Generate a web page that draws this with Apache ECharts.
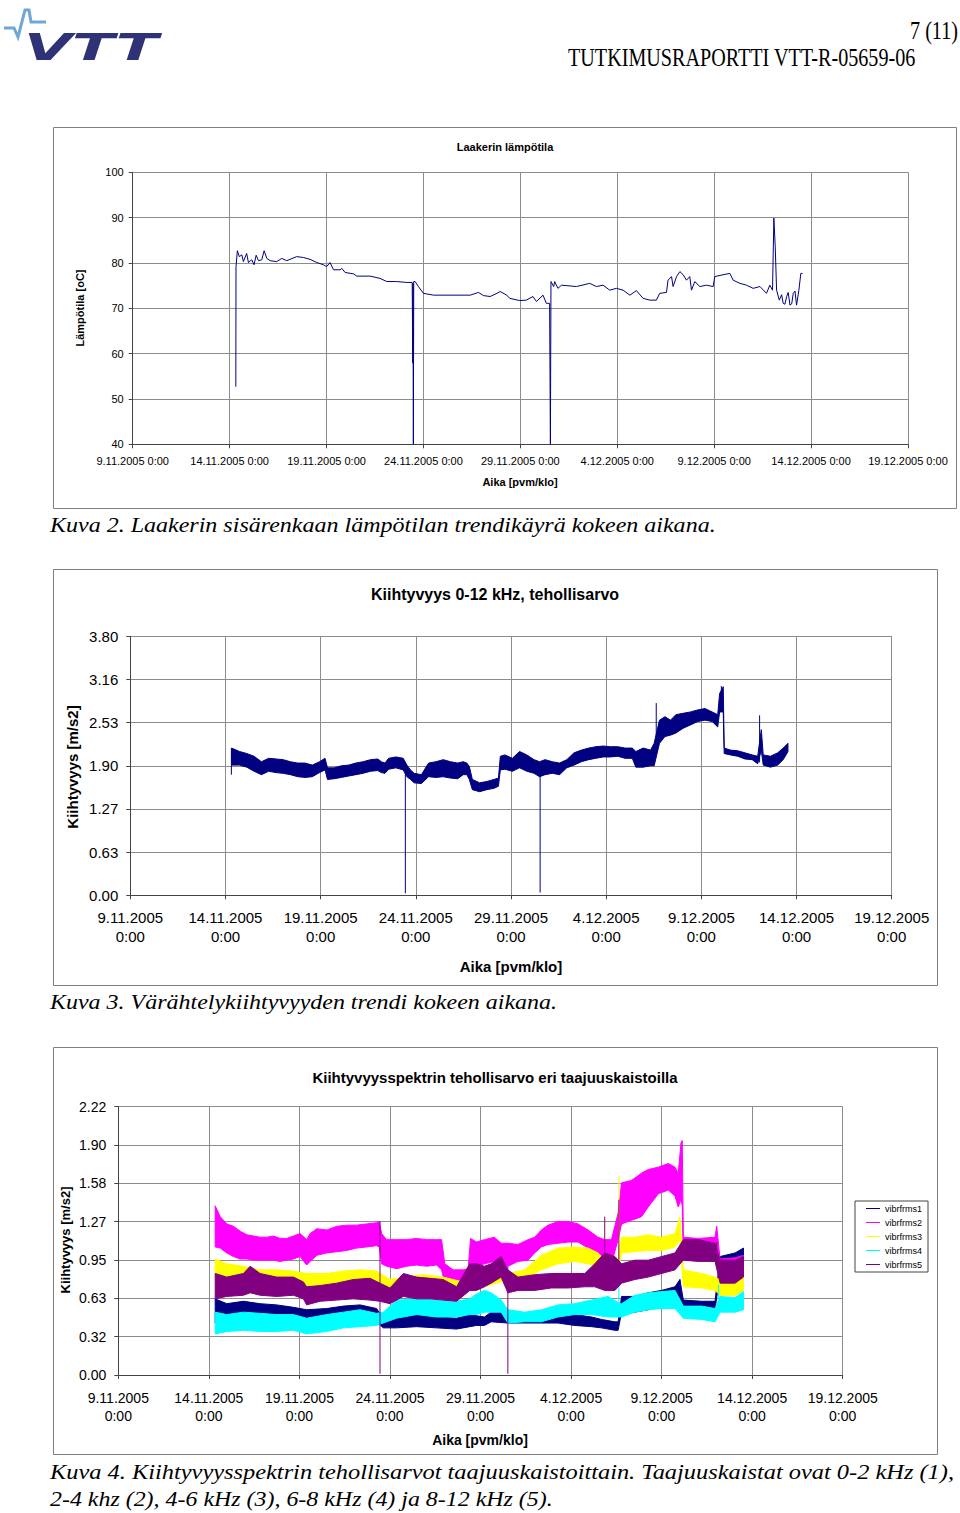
<!DOCTYPE html>
<html><head><meta charset="utf-8">
<script src="https://cdn.jsdelivr.net/npm/echarts@6.0.0/dist/echarts.min.js"></script>
<style>html,body{margin:0;padding:0;background:#fff}#c{width:960px;height:1513px}</style>
</head><body><div id="c"></div>
<script>
// ---------- tick labels ----------
const xDates = ['9.11.2005','14.11.2005','19.11.2005','24.11.2005','29.11.2005','4.12.2005','9.12.2005','14.12.2005','19.12.2005'];
const xTime = '0:00';
const y1Labels = ['40','50','60','70','80','90','100'];
const y2Labels = ['0.00','0.63','1.27','1.90','2.53','3.16','3.80'];
const y3Labels = ['0.00','0.32','0.63','0.95','1.27','1.58','1.90','2.22'];
const seriesNames = ['vibrfrms1','vibrfrms2','vibrfrms3','vibrfrms4','vibrfrms5'];

// ---------- chart 1: bearing temperature (days since 9.11.2005 0:00, degC) ----------
const c1Day = [5.32,5.33,5.40,5.50,5.63,5.71,5.88,5.97,6.14,6.26,6.37,6.49,6.66,6.78,6.92,7.09,7.43,7.69,7.95,8.46,8.81,9.15,9.50,9.84,10.01,10.18,10.36,10.70,10.79,10.96,11.39,11.56,12.25,12.76,13.11,13.62,14.14,14.42,14.45,14.46,14.48,14.50,14.57,14.74,15.00,15.52,16.38,17.41,17.84,18.10,18.44,18.79,18.96,19.30,19.45,19.97,20.31,20.65,20.83,21.17,21.34,21.51,21.55,21.58,21.72,21.77,21.94,22.12,22.89,23.58,23.92,24.27,24.61,24.96,25.30,25.65,25.99,26.33,26.68,27.02,27.19,27.54,27.62,27.80,27.88,28.06,28.23,28.40,28.57,28.74,28.83,29.00,29.26,29.60,29.95,30.03,30.46,30.81,30.98,31.33,31.67,32.01,32.36,32.70,32.87,33.01,33.08,33.15,33.22,33.36,33.48,33.56,33.65,33.74,33.82,33.91,34.00,34.08,34.17,34.25,34.37,34.47,34.56];
const c1Temp = [52.7,79.2,82.7,81.4,81.8,80.3,82.1,80.1,80.7,79.6,81.7,80.5,80.7,82.7,81.0,80.5,80.3,81.0,80.5,81.4,81.2,80.8,80.1,79.6,79.2,80.1,78.5,78.5,78.8,77.9,77.6,77.1,77.1,76.6,75.9,75.9,75.7,75.7,57.9,75.5,40.0,75.9,75.9,74.8,73.3,72.9,72.9,72.9,73.5,72.8,72.6,73.3,73.7,72.9,72.2,71.7,71.8,72.6,71.5,72.9,71.1,71.1,40.0,75.9,74.8,75.9,74.4,75.1,74.8,75.5,74.8,75.1,74.0,74.4,74.0,72.9,73.9,72.2,71.8,71.8,73.3,73.5,76.2,77.0,74.8,77.0,78.1,77.4,76.2,77.0,74.0,75.9,74.8,75.1,74.8,77.0,77.4,77.7,76.2,75.5,75.1,74.4,74.8,73.3,75.1,74.0,89.9,83.6,74.0,71.8,73.0,71.1,70.9,72.6,73.5,70.7,71.0,73.3,73.8,70.7,74.0,77.7,77.7];

// ---------- chart 2: acceleration 0-12 kHz, rms band [day, low, high] ----------
const c2Band = [[5.32,1.91,2.16],[5.74,1.91,2.11],[6.12,1.88,2.08],[6.50,1.82,2.04],[6.89,1.77,1.96],[7.27,1.82,2.01],[7.65,1.80,2.00],[8.03,1.79,1.99],[8.41,1.77,1.96],[8.80,1.74,1.94],[9.18,1.73,1.94],[9.56,1.74,1.91],[9.94,1.80,1.96],[10.23,1.84,2.01],[10.36,1.70,1.87],[10.71,1.71,1.87],[11.09,1.73,1.90],[11.47,1.75,1.91],[11.85,1.77,1.94],[12.23,1.79,1.96],[12.62,1.82,1.99],[13.00,1.83,2.00],[13.19,1.80,1.96],[13.38,1.79,1.94],[13.57,1.85,2.01],[13.95,1.87,2.03],[14.34,1.84,2.01],[14.53,1.74,1.91],[14.72,1.70,1.84],[14.91,1.65,1.79],[15.29,1.64,1.77],[15.67,1.74,1.94],[16.06,1.73,1.96],[16.44,1.74,1.99],[16.82,1.72,1.96],[17.20,1.71,1.94],[17.49,1.77,1.96],[17.68,1.77,1.94],[17.81,1.70,1.89],[17.97,1.55,1.70],[18.35,1.52,1.65],[18.73,1.55,1.67],[19.11,1.57,1.70],[19.34,1.60,1.72],[19.44,1.84,2.04],[19.68,1.85,2.06],[20.07,1.82,2.01],[20.45,1.87,2.11],[20.83,1.82,2.06],[21.21,1.79,1.99],[21.50,1.74,1.96],[21.79,1.77,1.99],[22.17,1.79,1.96],[22.55,1.77,1.94],[22.93,1.87,1.99],[23.31,1.91,2.09],[23.70,1.96,2.13],[24.08,1.99,2.16],[24.46,2.01,2.18],[24.84,2.03,2.19],[25.22,2.03,2.18],[25.61,2.04,2.18],[25.99,2.01,2.16],[26.37,2.01,2.16],[26.56,1.88,2.11],[26.94,1.88,2.16],[27.33,1.90,2.13],[27.52,1.90,2.23],[27.80,2.23,2.57],[28.09,2.33,2.62],[28.38,2.35,2.57],[28.66,2.38,2.65],[29.04,2.45,2.67],[29.43,2.50,2.69],[29.81,2.55,2.72],[30.19,2.57,2.74],[30.57,2.55,2.69],[30.86,2.47,2.65],[30.96,2.69,2.96],[31.15,2.69,3.06],[31.20,2.08,2.16],[31.53,2.06,2.13],[31.91,2.04,2.12],[32.29,2.00,2.09],[32.67,1.99,2.06],[32.96,1.93,2.04],[33.15,2.13,2.43],[33.25,1.91,2.06],[33.63,1.88,2.04],[34.01,1.91,2.09],[34.30,1.99,2.16],[34.55,2.11,2.23]];
const c2Spikes = [[5.31,1.77,2.16],[14.45,0.03,1.90],[21.53,0.04,1.80],[27.63,2.20,2.82],[31.05,2.70,3.07],[33.06,1.95,2.64]];

// ---------- chart 3: band rms values [day, low, high] ----------
const s1Band = [[5.35,0.43,0.63],[5.99,0.44,0.59],[6.91,0.45,0.61],[7.83,0.44,0.59],[8.75,0.45,0.58],[9.67,0.44,0.56],[10.40,0.43,0.54],[11.51,0.44,0.55],[12.43,0.45,0.57],[13.35,0.47,0.58],[14.26,0.44,0.55],[14.63,0.39,0.47],[15.37,0.39,0.48],[16.47,0.40,0.50],[17.57,0.39,0.48],[18.68,0.38,0.47],[19.41,0.40,0.50],[19.78,0.41,0.49],[20.22,0.41,0.48],[20.59,0.44,0.52],[21.51,0.43,0.52],[22.44,0.43,0.51],[23.36,0.43,0.50],[24.28,0.43,0.50],[25.20,0.41,0.50],[26.13,0.40,0.48],[26.68,0.39,0.46],[27.42,0.37,0.44],[27.60,0.37,0.44],[27.79,0.52,0.65],[28.52,0.52,0.65],[29.26,0.54,0.68],[30.00,0.57,0.70],[30.74,0.59,0.73],[31.01,0.65,0.79],[31.20,0.54,0.62],[32.21,0.54,0.61],[32.95,0.54,0.61],[33.23,0.84,0.98],[34.06,0.87,1.01],[34.52,0.88,1.05]];
const s2Band = [[5.35,1.06,1.40],[5.63,1.05,1.31],[5.99,1.01,1.25],[6.36,0.98,1.23],[6.73,0.96,1.19],[7.10,0.96,1.16],[7.46,0.95,1.15],[7.83,0.95,1.14],[8.20,0.95,1.14],[8.57,0.95,1.15],[8.93,0.94,1.13],[9.30,0.95,1.13],[9.67,0.96,1.15],[10.04,0.98,1.17],[10.40,0.91,1.12],[10.59,0.94,1.17],[10.96,0.99,1.21],[11.51,1.01,1.20],[12.06,1.02,1.23],[12.61,1.03,1.24],[13.16,1.05,1.24],[13.71,1.06,1.25],[14.26,1.07,1.26],[14.41,1.06,1.27],[14.54,0.92,1.17],[14.82,0.90,1.12],[15.37,0.88,1.12],[15.92,0.90,1.12],[16.47,0.91,1.13],[17.02,0.90,1.12],[17.57,0.91,1.12],[17.85,0.87,1.12],[18.03,0.76,0.92],[18.49,0.73,0.87],[19.04,0.74,0.87],[19.32,0.76,0.88],[19.45,0.92,1.13],[19.78,0.90,1.10],[20.22,0.92,1.12],[20.77,0.94,1.14],[21.14,0.92,1.09],[21.51,0.90,1.09],[22.07,0.94,1.08],[22.62,0.95,1.12],[22.99,1.01,1.14],[23.36,1.06,1.20],[23.73,1.08,1.24],[24.28,1.09,1.27],[24.83,1.10,1.27],[25.39,1.10,1.25],[25.94,1.05,1.20],[26.49,1.01,1.14],[26.86,0.97,1.12],[27.23,0.92,1.12],[27.60,1.12,1.34],[27.79,1.25,1.59],[28.34,1.28,1.61],[28.89,1.31,1.67],[29.26,1.39,1.70],[29.82,1.50,1.72],[30.37,1.53,1.75],[30.74,1.48,1.72],[30.92,1.39,1.67],[31.07,1.45,1.92],[31.14,1.40,1.94],[31.20,0.95,1.14],[32.03,0.96,1.13],[32.95,0.95,1.14],[33.04,0.95,1.23],[33.23,0.79,0.96],[34.06,0.80,0.97],[34.52,0.82,0.99]];
const s3Band = [[5.35,0.77,0.96],[5.99,0.80,0.92],[6.91,0.79,0.90],[7.83,0.77,0.87],[8.75,0.76,0.87],[9.67,0.74,0.86],[10.40,0.73,0.84],[11.51,0.73,0.84],[12.43,0.74,0.86],[13.35,0.76,0.87],[14.26,0.74,0.86],[15.00,0.68,0.79],[15.74,0.69,0.81],[16.84,0.70,0.83],[17.94,0.70,0.81],[19.04,0.69,0.77],[19.78,0.73,0.87],[20.22,0.73,0.81],[21.51,0.79,0.84],[22.44,0.80,0.87],[23.36,0.87,0.99],[24.28,0.92,1.05],[25.20,0.94,1.06],[25.94,0.92,1.05],[26.49,0.90,1.01],[27.05,0.84,0.92],[27.60,0.85,0.95],[27.79,1.01,1.14],[28.52,1.02,1.14],[29.26,1.03,1.16],[30.00,1.03,1.14],[30.74,1.06,1.17],[31.01,1.12,1.31],[31.20,0.73,0.87],[32.21,0.72,0.84],[32.95,0.70,0.81],[33.23,0.66,0.79],[34.06,0.66,0.76],[34.52,0.70,0.87]];
const s4Band = [[5.35,0.34,0.52],[5.99,0.36,0.50],[6.91,0.37,0.52],[7.83,0.36,0.51],[8.75,0.36,0.50],[9.67,0.37,0.50],[10.40,0.34,0.47],[11.51,0.36,0.50],[12.43,0.39,0.52],[13.35,0.40,0.54],[14.26,0.41,0.51],[14.63,0.43,0.52],[15.37,0.47,0.62],[16.47,0.50,0.63],[17.57,0.48,0.62],[18.68,0.48,0.61],[19.41,0.50,0.63],[19.78,0.50,0.67],[20.22,0.52,0.70],[20.59,0.52,0.68],[21.14,0.52,0.62],[21.51,0.43,0.54],[22.44,0.44,0.52],[23.36,0.44,0.54],[24.28,0.48,0.58],[25.20,0.50,0.59],[26.13,0.50,0.62],[27.05,0.48,0.65],[27.60,0.48,0.60],[27.79,0.48,0.59],[28.52,0.52,0.66],[29.26,0.54,0.68],[30.00,0.55,0.69],[30.74,0.55,0.70],[31.20,0.47,0.57],[32.21,0.46,0.57],[32.95,0.44,0.55],[33.23,0.52,0.65],[34.06,0.52,0.64],[34.52,0.54,0.69]];
const s5Band = [[5.35,0.63,0.84],[5.99,0.65,0.81],[6.91,0.66,0.84],[7.28,0.68,0.90],[7.83,0.66,0.84],[8.75,0.65,0.81],[9.67,0.66,0.81],[10.22,0.63,0.77],[10.40,0.58,0.73],[11.14,0.61,0.74],[12.06,0.62,0.76],[12.98,0.63,0.79],[13.90,0.62,0.80],[14.45,0.61,0.76],[15.00,0.59,0.72],[15.74,0.65,0.84],[16.47,0.63,0.81],[17.21,0.63,0.80],[17.94,0.62,0.79],[18.68,0.61,0.73],[19.41,0.70,0.92],[19.78,0.70,0.92],[20.22,0.73,0.90],[20.59,0.76,0.92],[21.14,0.81,0.98],[21.51,0.68,0.87],[22.07,0.70,0.81],[22.99,0.70,0.83],[23.91,0.72,0.84],[24.83,0.72,0.84],[25.76,0.73,0.84],[26.31,0.73,0.92],[26.86,0.70,1.01],[27.42,0.70,0.98],[27.79,0.76,0.92],[28.52,0.79,0.95],[29.26,0.81,0.95],[30.00,0.84,0.98],[30.74,0.87,1.01],[31.20,0.95,1.12],[32.03,0.94,1.12],[32.95,0.94,1.09],[33.23,0.76,0.95],[34.06,0.76,0.95],[34.52,0.81,0.98]];
const s1Spikes = [[31.01,0.60,0.79]];
const s2Spikes = [[33.04,0.95,1.23]];
const s3Spikes = [[27.64,0.95,1.65]];
const s4Spikes = [[27.64,0.55,0.75],[33.14,0.50,0.75]];
const s5Spikes = [[14.45,0.01,1.27],[21.51,0.01,0.90],[26.86,0.85,1.31],[27.64,0.85,1.45],[33.04,0.90,1.10]];

// ---------- rendering ----------
const SANS = '"Liberation Sans", Arial, sans-serif';
const SERIF = '"Liberation Serif", "Times New Roman", serif';
const NAVY = '#000080';
const colors = ['#000080','#ff00ff','#ffff00','#00ffff','#800080'];
const y2Step = 3.8 / 6, y3Step = 2.22 / 7;

const mctx = document.createElement('canvas').getContext('2d');
function fitX(text, font, w) { mctx.font = font; return w / mctx.measureText(text).width; }
function txt(text, x, y, o) {
  const font = (o.style || 'normal') + ' ' + (o.weight || 'normal') + ' ' + o.size + 'px ' + (o.family || SANS);
  const el = { type: 'text', x: x, y: y, rotation: o.rot || 0, silent: true, z: 10,
    style: { text: text, font: font, fill: o.color || '#000', align: o.align || 'left', textAlign: o.align || 'left', verticalAlign: 'middle', textVerticalAlign: 'middle' } };
  if (o.width) el.scaleX = fitX(text, font, o.width);
  return el;
}
function box(x1, y1, x2, y2) {
  return { type: 'rect', shape: { x: x1 + 0.5, y: y1 + 0.5, width: x2 - x1, height: y2 - y1 }, silent: true, z: 0,
    style: { fill: 'none', stroke: '#7f7f7f', lineWidth: 1 } };
}

const gridStyle = { lineStyle: { color: '#8c8c8c', width: 1 } };
const axisLineStyle = { show: true, lineStyle: { color: '#444', width: 1 } };
function xAxisCfg(k, size, twoLine, margin) {
  return { type: 'value', gridIndex: k, min: 0, max: 40, interval: 5,
    axisLine: axisLineStyle, axisTick: { show: true, inside: false, length: 4, lineStyle: { color: '#444' } },
    splitLine: Object.assign({ show: true }, gridStyle),
    axisLabel: { show: true, margin: margin, fontFamily: SANS, fontSize: size, color: '#000', lineHeight: twoLine ? size + 4 : size + 2,
      showMinLabel: true, showMaxLabel: true, hideOverlap: false,
      formatter: v => { const d = xDates[Math.round(v / 5)]; return twoLine ? d + '\n' + xTime : d + ' ' + xTime; } } };
}
function yAxisCfg(k, min, max, step, labels, size, margin) {
  return { type: 'value', gridIndex: k, min: min, max: max, interval: step,
    axisLine: axisLineStyle, axisTick: { show: true, inside: false, length: 4, lineStyle: { color: '#444' } },
    splitLine: Object.assign({ show: true }, gridStyle),
    axisLabel: { show: true, margin: margin, fontFamily: SANS, fontSize: size, color: '#000', showMinLabel: true, showMaxLabel: true,
      formatter: v => labels[Math.round((v - min) / step)] } };
}
function band(name, color, rows, k) {
  return { type: 'custom', name: name, xAxisIndex: k, yAxisIndex: k, itemStyle: { color: color }, data: rows,
    encode: { x: 0, y: [1, 2] }, silent: true,
    renderItem: function (params, api) {
      if (params.dataIndex !== 0) return null;
      const up = rows.map(r => api.coord([r[0], r[2]]));
      const dn = rows.slice().reverse().map(r => api.coord([r[0], r[1]]));
      return { type: 'polygon', shape: { points: up.concat(dn) }, style: { fill: color, stroke: color, lineWidth: 1 } };
    } };
}
function spikes(name, color, rows, k) {
  return { type: 'custom', name: name, xAxisIndex: k, yAxisIndex: k, itemStyle: { color: color }, data: rows,
    encode: { x: 0, y: [1, 2] }, silent: true,
    renderItem: function (params, api) {
      const r = rows[params.dataIndex];
      const a = api.coord([r[0], r[1]]), b = api.coord([r[0], r[2]]);
      return { type: 'line', shape: { x1: a[0], y1: a[1], x2: b[0], y2: b[1] }, style: { stroke: color, lineWidth: 1 } };
    } };
}

const c1Data = c1Day.map((d, i) => [d, c1Temp[i]]);
const bands3 = [s1Band, s2Band, s3Band, s4Band, s5Band];
const spikes3 = [s1Spikes, s2Spikes, s3Spikes, s4Spikes, s5Spikes];

const series = [
  { type: 'line', name: 'Lämpötila', xAxisIndex: 0, yAxisIndex: 0, data: c1Data, showSymbol: false, symbol: 'none',
    lineStyle: { color: NAVY, width: 1 }, itemStyle: { color: NAVY }, silent: true, animation: false },
  band('Kiihtyvyys', NAVY, c2Band, 1),
  spikes('Kiihtyvyys', NAVY, c2Spikes, 1)
];
seriesNames.forEach((n, i) => { series.push(band(n, colors[i], bands3[i], 2)); series.push(spikes(n, colors[i], spikes3[i], 2)); });

const graphics = [
  // VTT logo
  { type: 'polyline', silent: true, shape: { points: [[4, 28], [14, 28], [18, 37], [25, 10], [29, 10], [31, 22], [46, 22]] },
    style: { stroke: '#6fa8d6', lineWidth: 3, fill: 'none', lineJoin: 'miter' } },
  Object.assign(txt('VTT', 24, 47, { size: 38, weight: 'bold', style: 'italic', family: '"DejaVu Sans", sans-serif', color: '#2f3277', width: 134 })),
  txt('7 (11)', 958, 30, { size: 26, family: SERIF, align: 'right', width: 48 }),
  txt('TUTKIMUSRAPORTTI VTT-R-05659-06', 568, 57, { size: 26, family: SERIF, width: 348 }),
  // chart boxes
  box(53, 127, 956, 508), box(53, 569, 937, 985), box(53, 1047, 937, 1454),
  // chart 1 texts
  txt('Laakerin lämpötila', 505, 147, { size: 11, weight: 'bold', align: 'center' }),
  txt('Lämpötila [oC]', 80, 308, { size: 11, weight: 'bold', align: 'center', rot: Math.PI / 2 }),
  txt('Aika [pvm/klo]', 520, 482, { size: 11, weight: 'bold', align: 'center' }),
  // chart 2 texts
  txt('Kiihtyvyys 0-12 kHz, tehollisarvo', 495, 594, { size: 16, weight: 'bold', align: 'center' }),
  txt('Kiihtyvyys [m/s2]', 72, 767, { size: 15, weight: 'bold', align: 'center', rot: Math.PI / 2 }),
  txt('Aika [pvm/klo]', 511, 966, { size: 15, weight: 'bold', align: 'center' }),
  // chart 3 texts
  txt('Kiihtyvyysspektrin tehollisarvo eri taajuuskaistoilla', 495, 1077, { size: 15, weight: 'bold', align: 'center' }),
  txt('Kiihtyvyys [m/s2]', 65, 1240, { size: 13, weight: 'bold', align: 'center', rot: Math.PI / 2 }),
  txt('Aika [pvm/klo]', 480, 1440, { size: 14, weight: 'bold', align: 'center' }),
  // captions
  txt('Kuva 2. Laakerin sisärenkaan lämpötilan trendikäyrä kokeen aikana.', 50, 525, { size: 21, style: 'italic', family: SERIF, width: 666 }),
  txt('Kuva 3. Värähtelykiihtyvyyden trendi kokeen aikana.', 50, 1002, { size: 21, style: 'italic', family: SERIF, width: 507 }),
  txt('Kuva 4. Kiihtyvyysspektrin tehollisarvot taajuuskaistoittain. Taajuuskaistat ovat 0-2 kHz (1),', 50, 1472, { size: 21, style: 'italic', family: SERIF, width: 905 }),
  txt('2-4 khz (2), 4-6 kHz (3), 6-8 kHz (4) ja 8-12 kHz (5).', 50, 1499, { size: 21, style: 'italic', family: SERIF, width: 503 })
];

const chart = echarts.init(document.getElementById('c'), null, { renderer: 'svg', width: 960, height: 1513 });
chart.setOption({
  backgroundColor: '#fff',
  animation: false,
  grid: [
    { left: 132.7, top: 172.3, width: 775.3, height: 272 },
    { left: 130.3, top: 636.3, width: 761.4, height: 259 },
    { left: 118.3, top: 1106.7, width: 724.4, height: 268.3 }
  ],
  xAxis: [xAxisCfg(0, 11, false, 10), xAxisCfg(1, 15, true, 13), xAxisCfg(2, 14, true, 14)],
  yAxis: [
    yAxisCfg(0, 40, 100, 10, y1Labels, 11, 9),
    yAxisCfg(1, 0, 3.8, y2Step, y2Labels, 15, 12),
    yAxisCfg(2, 0, 2.22, y3Step, y3Labels, 14, 12)
  ],
  legend: { show: true, orient: 'vertical', left: 855, top: 1201, padding: [2, 6, 2, 11], itemGap: 3, itemWidth: 14, itemHeight: 1,
    icon: 'rect', borderColor: '#444', borderWidth: 1, backgroundColor: '#fff', selectedMode: false,
    textStyle: { fontFamily: SANS, fontSize: 9, color: '#000', lineHeight: 11 }, data: seriesNames },
  tooltip: { show: false },
  series: series,
  graphic: { elements: graphics }
});
</script></body></html>
